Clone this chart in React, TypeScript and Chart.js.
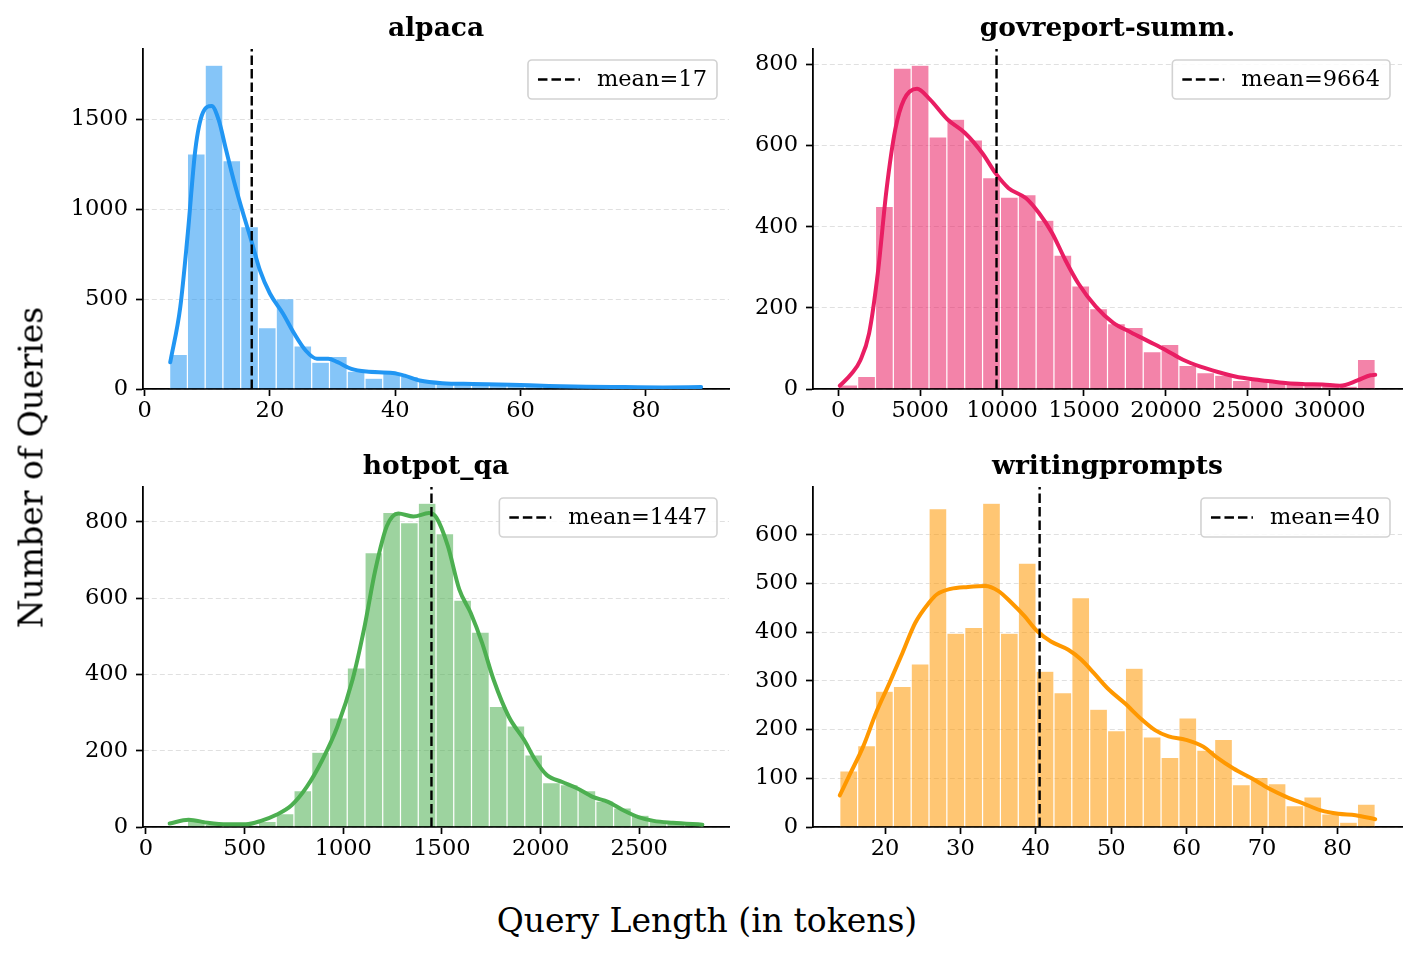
import React, { useEffect, useRef } from "react";
import { Chart, registerables } from "chart.js";

Chart.register(...registerables);

const FONT = "'DejaVu Serif', serif";

// ---------------- data ----------------
const alpacaTitle = "alpaca";
const alpacaRange = [4, 89];
const alpacaCounts = [192, 1307, 1801, 1270, 903, 341, 503, 240, 149, 181, 99, 60, 91, 70, 46, 33, 33, 28, 28, 24, 18, 20, 18, 17, 15, 15, 13, 13, 15, 15];
const alpacaKdeX = [4.1, 5.7, 6.9, 8.1, 9.3, 10.7, 11.8, 13.0, 14.2, 15.4, 17.0, 18.4, 20.0, 22.1, 23.9, 25.7, 27.5, 29.3, 30.8, 33.0, 35.4, 39.6, 41.5, 43.9, 47.5, 52.4, 58.4, 64.5, 70.5, 76.6, 82.7, 88.8];
const alpacaKdeY = [149, 456, 866, 1331, 1536, 1574, 1499, 1331, 1164, 1015, 829, 661, 531, 419, 307, 214, 168, 168, 149, 112, 97, 89, 74, 47, 32, 28, 24, 17, 13, 11, 9, 11];
const alpacaMean = 17.1;
const alpacaMeanLabel = "mean=17";
const alpacaXTicks = [0, 20, 40, 60, 80];
const alpacaYTicks = [0, 500, 1000, 1500];

const govTitle = "govreport-summ.";
const govRange = [100, 32768];
const govCounts = [10, 31, 450, 791, 798, 621, 665, 614, 521, 473, 479, 416, 330, 254, 198, 161, 152, 92, 110, 58, 40, 34, 21, 25, 16, 12, 14, 10, 7, 73];
const govKdeX = [100, 825, 1357, 1889, 2420, 2952, 3484, 4016, 4814, 5612, 6676, 7740, 8803, 9601, 10399, 11465, 12263, 13061, 13859, 14657, 15721, 16785, 17849, 18913, 19977, 21041, 22105, 23168, 24232, 25297, 26361, 27425, 28489, 29553, 30617, 31681, 32479, 32768];
const govKdeY = [8, 38, 71, 137, 285, 491, 639, 713, 740, 713, 664, 631, 581, 532, 495, 470, 433, 384, 318, 260, 203, 163, 140, 118, 96, 72, 55, 42, 31, 24, 19, 14, 12, 11, 8, 21, 34, 35];
const govMean = 9664;
const govMeanLabel = "mean=9664";
const govXTicks = [0, 5000, 10000, 15000, 20000, 25000, 30000];
const govYTicks = [0, 200, 400, 600, 800];

const hotpotTitle = "hotpot_qa";
const hotpotRange = [120, 2820];
const hotpotCounts = [4, 19, 7, 4, 5, 15, 35, 95, 196, 286, 417, 719, 825, 798, 849, 769, 595, 511, 316, 265, 189, 116, 111, 95, 68, 50, 31, 18, 12, 8];
const hotpotKdeX = [120, 216, 313, 410, 506, 583, 661, 738, 815, 893, 970, 1047, 1105, 1163, 1221, 1279, 1356, 1434, 1472, 1530, 1588, 1646, 1704, 1762, 1839, 1917, 1974, 2032, 2110, 2187, 2264, 2342, 2419, 2496, 2573, 2670, 2820];
const hotpotKdeY = [9, 19, 11, 7, 7, 16, 32, 57, 105, 175, 263, 386, 518, 675, 789, 822, 814, 823, 811, 737, 623, 561, 482, 386, 289, 228, 175, 136, 118, 101, 79, 66, 44, 26, 16, 11, 6];
const hotpotMean = 1447;
const hotpotMeanLabel = "mean=1447";
const hotpotXTicks = [0, 500, 1000, 1500, 2000, 2500];
const hotpotYTicks = [0, 200, 400, 600, 800];

const writingTitle = "writingprompts";
const writingRange = [14, 85];
const writingCounts = [115, 167, 279, 289, 335, 654, 398, 410, 665, 398, 542, 320, 276, 471, 242, 198, 326, 185, 143, 224, 158, 180, 87, 102, 89, 44, 62, 27, 10, 47];
const writingKdeX = [14.0, 15.4, 17.1, 18.8, 20.6, 22.3, 24.0, 25.8, 26.9, 28.7, 31.0, 33.3, 35.0, 36.8, 38.5, 40.2, 42.0, 44.3, 46.0, 47.7, 49.5, 51.8, 54.1, 55.8, 57.6, 59.9, 62.2, 63.9, 66.2, 68.6, 70.9, 73.2, 75.5, 77.8, 80.1, 82.4, 85.0];
const writingKdeY = [65, 110, 165, 234, 296, 357, 419, 460, 478, 489, 493, 495, 485, 460, 433, 402, 381, 364, 344, 316, 285, 254, 220, 199, 186, 179, 165, 144, 120, 100, 79, 62, 48, 34, 27, 24, 16];
const writingMean = 40.5;
const writingMeanLabel = "mean=40";
const writingXTicks = [20, 30, 40, 50, 60, 70, 80];
const writingYTicks = [0, 100, 200, 300, 400, 500, 600];

const xAxisLabel = "Query Length (in tokens)";
const yAxisLabel = "Number of Queries";

// ---------------- layout ----------------
const COL_L = [143, 813];
const COL_R = [729, 1402];
const ROW_T = [49, 487];
const ROW_B = [389, 827];
const PADL = 100;
const PADT = 48;
const PADR = 15;
const PADB = 45;
const TICK_FS = 22.5;
const TITLE_FS = 26.5;

type PanelDef = {
  title: string;
  range: number[];
  counts: number[];
  kdeX: number[];
  kdeY: number[];
  mean: number;
  meanLabel: string;
  xTicks: number[];
  yTicks: number[];
  line: string;
  fill: string;
  col: number;
  row: number;
};

const panels: PanelDef[] = [
  { title: alpacaTitle, range: alpacaRange, counts: alpacaCounts, kdeX: alpacaKdeX, kdeY: alpacaKdeY, mean: alpacaMean, meanLabel: alpacaMeanLabel, xTicks: alpacaXTicks, yTicks: alpacaYTicks, line: "#2196F3", fill: "rgba(33,150,243,0.55)", col: 0, row: 0 },
  { title: govTitle, range: govRange, counts: govCounts, kdeX: govKdeX, kdeY: govKdeY, mean: govMean, meanLabel: govMeanLabel, xTicks: govXTicks, yTicks: govYTicks, line: "#E91E63", fill: "rgba(233,30,99,0.55)", col: 1, row: 0 },
  { title: hotpotTitle, range: hotpotRange, counts: hotpotCounts, kdeX: hotpotKdeX, kdeY: hotpotKdeY, mean: hotpotMean, meanLabel: hotpotMeanLabel, xTicks: hotpotXTicks, yTicks: hotpotYTicks, line: "#4CAF50", fill: "rgba(76,175,80,0.55)", col: 0, row: 1 },
  { title: writingTitle, range: writingRange, counts: writingCounts, kdeX: writingKdeX, kdeY: writingKdeY, mean: writingMean, meanLabel: writingMeanLabel, xTicks: writingXTicks, yTicks: writingYTicks, line: "#FF9800", fill: "rgba(255,152,0,0.55)", col: 1, row: 1 },
];

function HistPanel({ p }: { p: PanelDef }) {
  const ref = useRef<HTMLCanvasElement | null>(null);
  const axL = COL_L[p.col];
  const axR = COL_R[p.col];
  const axT = ROW_T[p.row];
  const axB = ROW_B[p.row];
  const width = axR - axL + PADL + PADR;
  const height = axB - axT + PADT + PADB;

  useEffect(() => {
    if (!ref.current) return;
    const [lo, hi] = p.range;
    const n = p.counts.length;
    const binW = (hi - lo) / n;
    const bars = p.counts.map((c, i) => ({ x: lo + binW * (i + 0.5), y: c }));
    const kde = p.kdeX.map((x, i) => ({ x, y: p.kdeY[i] }));
    const span = hi - lo;
    const xmin = lo - 0.05 * span;
    const xmax = hi + 0.05 * span;
    const ymax = 1.05 * Math.max(...p.counts, ...p.kdeY);

    const deco = {
      id: "deco",
      afterDatasetsDraw(chart: any) {
        const { ctx, chartArea } = chart;
        ctx.save();
        // legend
        ctx.font = `${TICK_FS}px ${FONT}`;
        const tw = ctx.measureText(p.meanLabel).width;
        const pad = 10;
        const handle = 42;
        const gap = 17;
        const boxH = 39;
        const boxW = pad + handle + gap + tw + pad;
        const bx = chartArea.right - 12 - boxW;
        const by = chartArea.top + 11;
        const r = 4;
        ctx.beginPath();
        ctx.moveTo(bx + r, by);
        ctx.lineTo(bx + boxW - r, by);
        ctx.arcTo(bx + boxW, by, bx + boxW, by + r, r);
        ctx.lineTo(bx + boxW, by + boxH - r);
        ctx.arcTo(bx + boxW, by + boxH, bx + boxW - r, by + boxH, r);
        ctx.lineTo(bx + r, by + boxH);
        ctx.arcTo(bx, by + boxH, bx, by + boxH - r, r);
        ctx.lineTo(bx, by + r);
        ctx.arcTo(bx, by, bx + r, by, r);
        ctx.closePath();
        ctx.fillStyle = "rgba(255,255,255,0.85)";
        ctx.fill();
        ctx.strokeStyle = "#d2d2d2";
        ctx.lineWidth = 1.6;
        ctx.stroke();
        const cy = by + boxH / 2;
        ctx.beginPath();
        ctx.setLineDash([9.5, 4]);
        ctx.strokeStyle = "#000";
        ctx.lineWidth = 2.6;
        ctx.moveTo(bx + pad, cy);
        ctx.lineTo(bx + pad + handle, cy);
        ctx.stroke();
        ctx.setLineDash([]);
        ctx.fillStyle = "#000";
        ctx.textAlign = "left";
        ctx.textBaseline = "middle";
        ctx.fillText(p.meanLabel, bx + pad + handle + gap, cy + 1);
        // title
        ctx.font = `bold ${TITLE_FS}px ${FONT}`;
        ctx.textAlign = "center";
        ctx.textBaseline = "alphabetic";
        ctx.fillText(p.title, (chartArea.left + chartArea.right) / 2, chartArea.top - 13);
        ctx.restore();
      },
    };

    const tickFont = { family: FONT, size: TICK_FS };
    const chart = new Chart(ref.current, {
      type: "bar",
      data: {
        datasets: [
          {
            type: "line",
            data: [
              { x: p.mean, y: 0 },
              { x: p.mean, y: ymax },
            ],
            borderColor: "#000",
            borderWidth: 2.4,
            borderDash: [9.5, 4],
            pointRadius: 0,
            order: 1,
          } as any,
          {
            type: "line",
            data: kde,
            borderColor: p.line,
            borderWidth: 4,
            pointRadius: 0,
            cubicInterpolationMode: "monotone",
            borderCapStyle: "round",
            order: 2,
          } as any,
          {
            type: "bar",
            data: bars,
            backgroundColor: p.fill,
            borderColor: "rgba(255,255,255,0.95)",
            borderWidth: { left: 0.6, right: 0.6, top: 0.6, bottom: 0 },
            borderSkipped: false,
            barPercentage: 1,
            categoryPercentage: 1,
            inflateAmount: 0,
            order: 3,
          } as any,
        ],
      },
      options: {
        responsive: false,
        animation: false,
        devicePixelRatio: 1,
        events: [],
        layout: { padding: { left: 0, top: PADT, right: PADR, bottom: 0 } },
        plugins: {
          legend: { display: false },
          tooltip: { enabled: false },
          title: { display: false },
        },
        scales: {
          x: {
            type: "linear",
            min: xmin,
            max: xmax,
            offset: false,
            afterBuildTicks: (s: any) => {
              s.ticks = p.xTicks.map((v) => ({ value: v }));
            },
            afterFit: (s: any) => {
              s.height = PADB;
            },
            ticks: {
              font: tickFont,
              color: "#000",
              padding: 2,
              maxRotation: 0,
              autoSkip: false,
              callback: (v: any) => String(v),
            },
            grid: {
              display: true,
              drawOnChartArea: false,
              drawTicks: true,
              tickLength: 7,
              tickWidth: 1.7,
              tickColor: "#000",
              offset: false,
            },
            border: { display: true, color: "#000", width: 1.8 },
          },
          y: {
            type: "linear",
            min: 0,
            max: ymax,
            afterBuildTicks: (s: any) => {
              s.ticks = p.yTicks.map((v) => ({ value: v }));
            },
            afterFit: (s: any) => {
              s.width = PADL;
            },
            ticks: {
              font: tickFont,
              color: "#000",
              padding: 8,
              autoSkip: false,
              callback: (v: any) => String(v),
            },
            grid: {
              display: true,
              drawOnChartArea: true,
              drawTicks: true,
              color: "#e0e0e0",
              lineWidth: 1,
              tickLength: 7,
              tickWidth: 1.7,
              tickColor: "#000",
              tickBorderDash: [],
            },
            border: { display: true, color: "#000", width: 1.8, dash: [5, 3] },
          },
        },
      } as any,
      plugins: [deco],
    });
    return () => chart.destroy();
  }, []);

  return (
    <canvas
      ref={ref}
      width={width}
      height={height}
      style={{
        position: "absolute",
        left: axL - PADL,
        top: axT - PADT,
        width,
        height,
      }}
    />
  );
}

export default function App() {
  return (
    <div
      style={{
        position: "fixed",
        left: 0,
        top: 0,
        width: 1417,
        height: 956,
        background: "#fff",
        overflow: "hidden",
        fontFamily: FONT,
      }}
    >
      {panels.map((p, i) => (
        <HistPanel key={i} p={p} />
      ))}
      <div
        style={{
          position: "absolute",
          left: 707 - 300,
          top: 904,
          width: 600,
          height: 33,
          lineHeight: "33px",
          fontSize: 33,
          textAlign: "center",
          color: "#000",
          whiteSpace: "nowrap",
        }}
      >
        {xAxisLabel}
      </div>
      <div
        style={{
          position: "absolute",
          left: 30.6 - 250,
          top: 467 - 16.5,
          width: 500,
          height: 33,
          lineHeight: "33px",
          fontSize: 33,
          textAlign: "center",
          color: "#000",
          whiteSpace: "nowrap",
          transform: "rotate(-90deg)",
          transformOrigin: "50% 50%",
        }}
      >
        {yAxisLabel}
      </div>
    </div>
  );
}
